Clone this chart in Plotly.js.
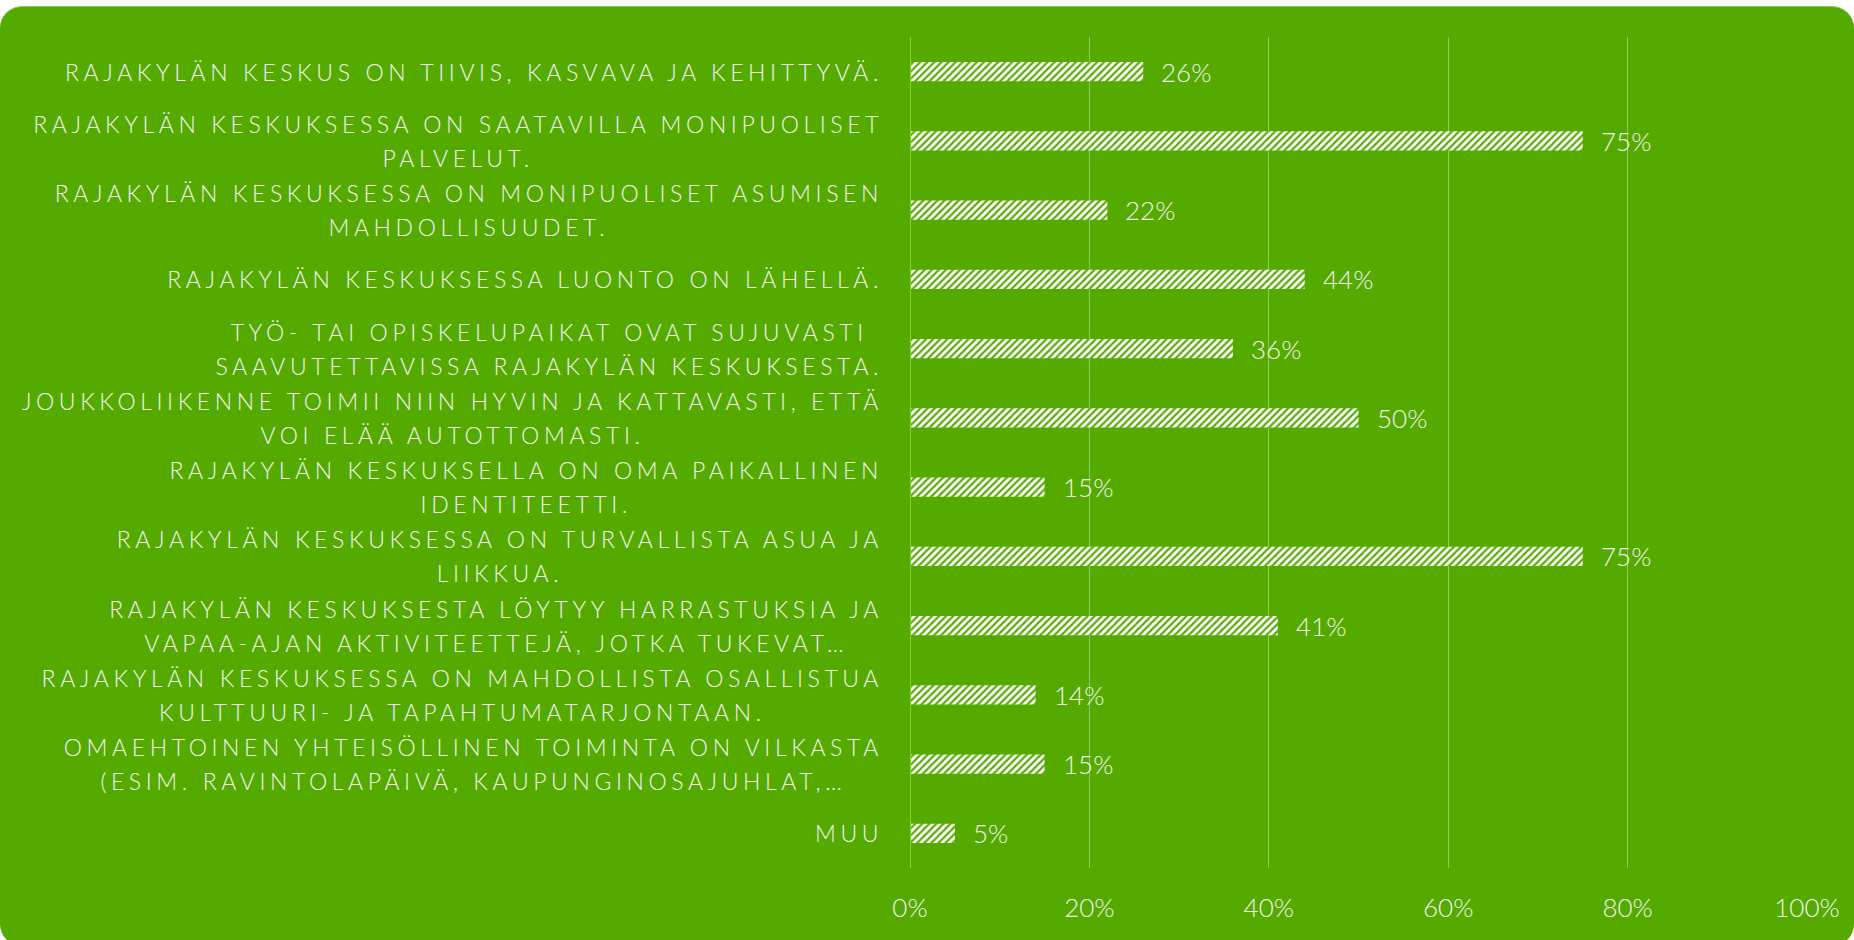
<!DOCTYPE html>
<html>
<head>
<meta charset="utf-8">
<script src="https://cdn.plot.ly/plotly-3.0.1.min.js"></script>
<style>
  html, body { margin:0; padding:0; background:#ffffff; width:1854px; height:940px; overflow:hidden; }
  #card { position:absolute; left:0; top:6px; width:1854px; height:940px; background:#55aa00; border-radius:22px; border-top:1px solid #8cc860; box-sizing:border-box; }
  #chart { position:absolute; left:0; top:0; width:1854px; height:940px; }
</style>
</head>
<body>
<div id="card"></div>
<div id="chart"></div>
<script>
const categories = [
  "RAJAKYLÄN KESKUS ON TIIVIS, KASVAVA JA KEHITTYVÄ.",
  "RAJAKYLÄN KESKUKSESSA ON SAATAVILLA MONIPUOLISET<br>PALVELUT.",
  "RAJAKYLÄN KESKUKSESSA ON MONIPUOLISET ASUMISEN<br>MAHDOLLISUUDET.",
  "RAJAKYLÄN KESKUKSESSA LUONTO ON LÄHELLÄ.",
  "TYÖ- TAI OPISKELUPAIKAT OVAT SUJUVASTI<br>SAAVUTETTAVISSA RAJAKYLÄN KESKUKSESTA.",
  "JOUKKOLIIKENNE TOIMII NIIN HYVIN JA KATTAVASTI, ETTÄ<br>VOI ELÄÄ AUTOTTOMASTI.",
  "RAJAKYLÄN KESKUKSELLA ON OMA PAIKALLINEN<br>IDENTITEETTI.",
  "RAJAKYLÄN KESKUKSESSA ON TURVALLISTA ASUA JA<br>LIIKKUA.",
  "RAJAKYLÄN KESKUKSESTA LÖYTYY HARRASTUKSIA JA<br>VAPAA-AJAN AKTIVITEETTEJÄ, JOTKA TUKEVAT…",
  "RAJAKYLÄN KESKUKSESSA ON MAHDOLLISTA OSALLISTUA<br>KULTTUURI- JA TAPAHTUMATARJONTAAN.",
  "OMAEHTOINEN YHTEISÖLLINEN TOIMINTA ON VILKASTA<br>(ESIM. RAVINTOLAPÄIVÄ, KAUPUNGINOSAJUHLAT,…",
  "MUU"
];
const values = [0.26, 0.75, 0.22, 0.44, 0.36, 0.50, 0.15, 0.75, 0.41, 0.14, 0.15, 0.05];
const tickVals = [0, 0.2, 0.4, 0.6, 0.8, 1.0];
const tickText = ["0%", "20%", "40%", "60%", "80%", "100%"];

const GREEN = '#55aa00';
const TEXT = '#f2f2f2';
const FONT = 'Lato, "Open Sans", sans-serif';
const LABEL_SIZE = 23;
const LETTER_SP = 4.6;
const LINE_GAP = 34;

const trace = {
  type: 'bar',
  orientation: 'h',
  x: values,
  y: categories,
  width: 0.275,
  marker: {
    color: '#ffffff',
    line: { width: 0 },
    pattern: { shape: '/', bgcolor: '#ffffff', fgcolor: GREEN, size: 5, solidity: 0.42 }
  },
  hoverinfo: 'none'
};

const annotations = [];
categories.forEach((c, i) => {
  annotations.push({
    xref: 'paper', yref: 'y', x: 0, y: c,
    xanchor: 'right', yanchor: 'middle', xshift: -31,
    text: c, align: 'center', showarrow: false,
    font: { family: FONT, size: LABEL_SIZE, color: TEXT, weight: 300 }
  });
  annotations.push({
    xref: 'x', yref: 'y', x: values[i], y: c,
    xanchor: 'left', yanchor: 'middle', xshift: 16,
    text: Math.round(values[i] * 100) + '%', showarrow: false,
    font: { family: FONT, size: 26, color: TEXT, weight: 300 }
  });
});

const layout = {
  width: 1854, height: 940,
  paper_bgcolor: 'rgba(0,0,0,0)', plot_bgcolor: 'rgba(0,0,0,0)',
  margin: { l: 910, r: 47, t: 37, b: 72 },
  showlegend: false,
  bargap: 0.7,
  xaxis: {
    range: [0, 1], tickvals: tickVals, ticktext: tickText,
    showgrid: true, gridcolor: '#90c862', gridwidth: 1.3,
    zeroline: false, showline: false,
    ticks: 'outside', ticklen: 17, tickcolor: 'rgba(0,0,0,0)',
    tickfont: { family: FONT, size: 26, color: TEXT, weight: 300 }
  },
  yaxis: {
    type: 'category', autorange: 'reversed',
    showticklabels: false, showgrid: false, zeroline: false,
    showline: false, ticks: ''
  },
  shapes: [{
    type: 'line', xref: 'x', yref: 'paper', x0: 0, x1: 0, y0: 0, y1: 1,
    line: { color: '#80d42a', width: 2 }
  }],
  annotations: annotations
};

function toPx(v, fs) {
  if (!v) return 0;
  v = String(v).trim();
  if (v.endsWith('em')) return parseFloat(v) * fs;
  return parseFloat(v) || 0;
}

function fixLabels() {
  const gd = document.getElementById('chart');
  const anns = gd.querySelectorAll('.annotation');
  const targetRight = 883;
  anns.forEach((g, idx) => {
    if (idx % 2 !== 0) return;
    const t = g.querySelector('text.annotation-text');
    if (!t) return;
    t.style.letterSpacing = LETTER_SP + 'px';
    t.removeAttribute('transform');
    const before = t.getBoundingClientRect();
    const cyBefore = before.top + before.height / 2;
    const lines = t.querySelectorAll('tspan.line');
    if (lines.length > 1) {
      const r0 = lines[0].getBoundingClientRect();
      const r1 = lines[1].getBoundingClientRect();
      const pitch = (r1.top + r1.height / 2) - (r0.top + r0.height / 2);
      const extra = LINE_GAP - pitch;
      for (let k = 1; k < lines.length; k++) {
        const ln = lines[k];
        if (ln.hasAttribute('y')) {
          ln.setAttribute('y', (parseFloat(ln.getAttribute('y')) + extra * k).toFixed(2));
        } else {
          const d = toPx(ln.getAttribute('dy'), LABEL_SIZE);
          ln.setAttribute('dy', (d + extra).toFixed(2) + 'px');
        }
      }
    }
    const after = t.getBoundingClientRect();
    const dy = cyBefore - (after.top + after.height / 2);
    const dx = targetRight - after.right;
    t.setAttribute('transform', 'translate(' + dx.toFixed(1) + ',' + dy.toFixed(1) + ')');
  });
}

Plotly.newPlot('chart', [trace], layout, { staticPlot: true, displayModeBar: false }).then(fixLabels);
</script>
</body>
</html>
